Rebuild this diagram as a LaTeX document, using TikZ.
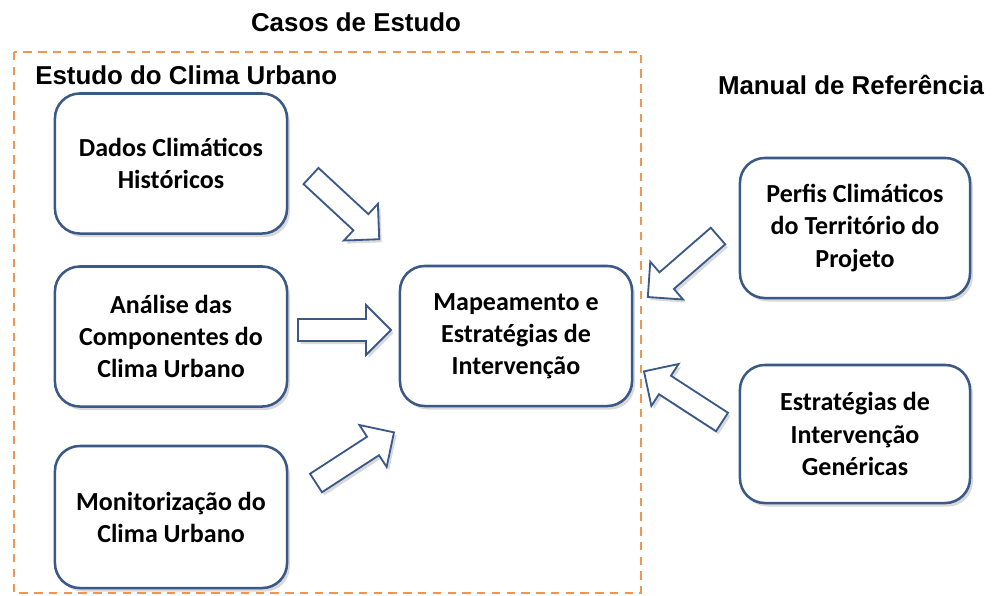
\documentclass[tikz,border=0pt]{standalone}
\usepackage{fontspec}
\setmainfont{Carlito}
\newfontfamily\titlefont{Liberation Sans}
\usetikzlibrary{shadows}
\definecolor{boxblue}{RGB}{59,89,135}
\definecolor{dashorange}{RGB}{240,150,80}
\tikzset{
  px/.style={x=0.025cm,y=-0.025cm},
  titletext/.style={font=\titlefont\bfseries\fontsize{18.4}{22}\selectfont, inner sep=0pt},
  infobox/.style={draw=boxblue, line width=1.8pt, fill=white, rounded corners=0.62cm,
    minimum width=5.8cm, minimum height=3.5cm, align=center, inner sep=2pt,
    font=\bfseries\fontsize{18.5}{22.8}\selectfont,
    drop shadow={shadow xshift=2pt, shadow yshift=-2.5pt, opacity=0.3}},
  barrowstyle/.style={draw=boxblue, line width=1.3pt, fill=white, line join=miter,
    drop shadow={shadow xshift=1.8pt, shadow yshift=-2.2pt, opacity=0.3}},
  barrow/.pic={
    \path[barrowstyle] (0,-11) -- (68,-11) -- (68,-25) -- (93,0) -- (68,25) -- (68,11) -- (0,11) -- cycle;
  }
}
\begin{document}
\begin{tikzpicture}[px]
\useasboundingbox (0,0) rectangle (992,595);
% dashed frame
\draw[dashorange, line width=1.5pt, dash pattern=on 6pt off 4.5pt] (14,52) rectangle (641,593);
% titles
\node[titletext] (t1) at (356,22) {Casos de Estudo};
\node[titletext, anchor=west] (t2) at (35,75) {Estudo do Clima Urbano};
\node[titletext] (t3) at (851,85) {Manual de Referência};
% boxes
\node[infobox] (b1) at (171,163.5) {Dados Climáticos\\Históricos};
\node[infobox] (b2) at (171,336.5) {Análise das\\Componentes do\\Clima Urbano};
\node[infobox, minimum height=3.55cm] (b3) at (171,517) {Monitorização do\\Clima Urbano};
\node[infobox] (c) at (516,336) {Mapeamento e\\Estratégias de\\Intervenção};
\node[infobox, minimum width=5.75cm] (r1) at (855,228) {Perfis Climáticos\\do Território do\\Projeto};
\node[infobox, minimum width=5.75cm, minimum height=3.45cm] (r2) at (855,434) {Estratégias de\\Intervenção\\Genéricas};
% block arrows
\pic[rotate=-42.8] (a1) at (311,176) {barrow};
\pic (a2) at (298,330) {barrow};
\pic[rotate=33] (a3) at (316,483) {barrow};
\pic[rotate=-139] (a4) at (718,236) {barrow};
\pic[rotate=147] (a5) at (722,422) {barrow};
\end{tikzpicture}
\end{document}
